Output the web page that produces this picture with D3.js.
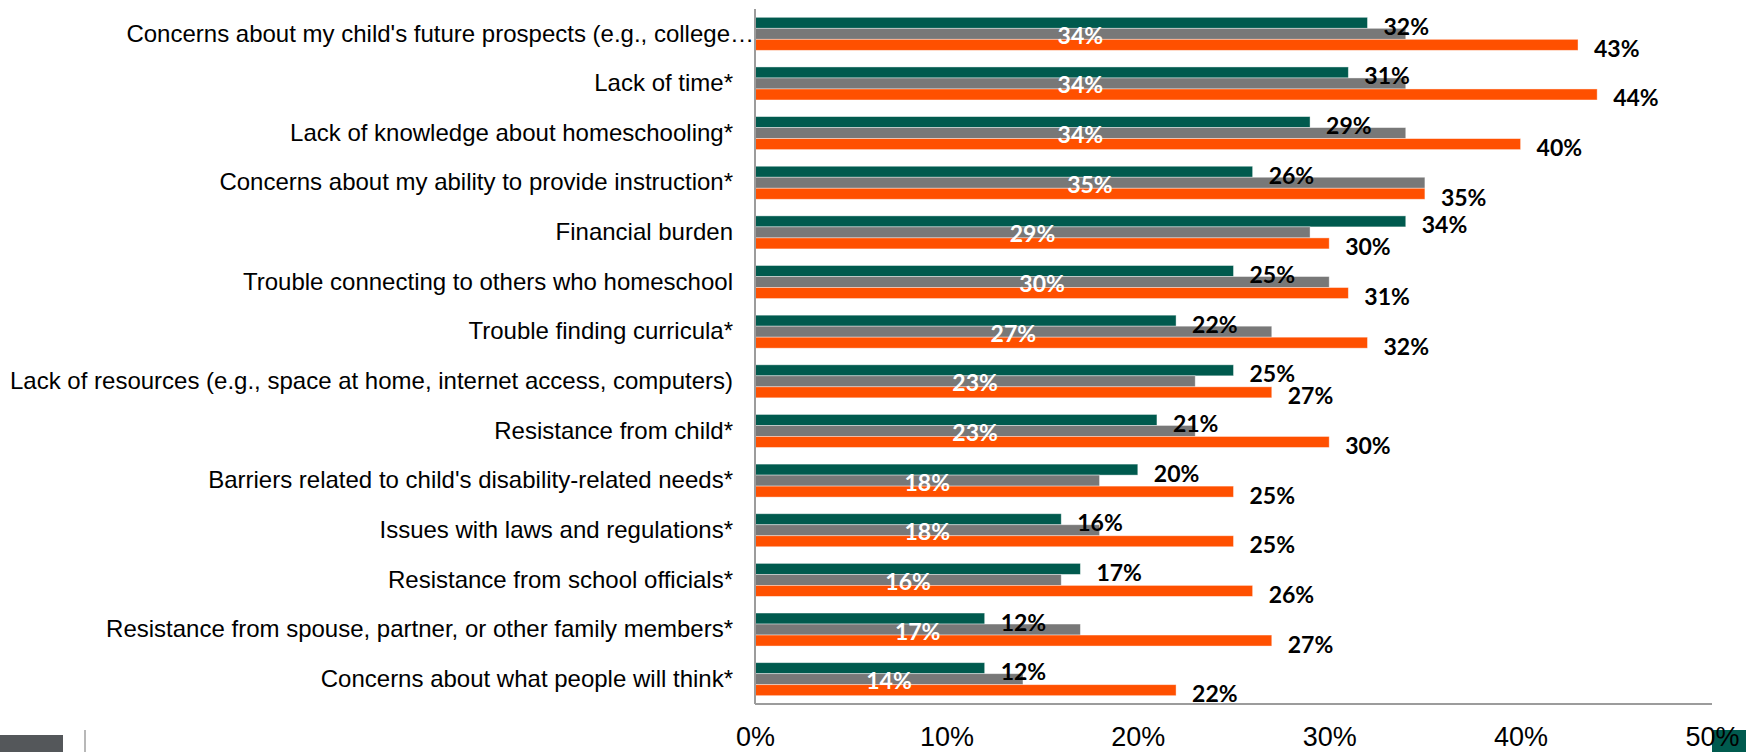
<!DOCTYPE html>
<html>
<head>
<meta charset="utf-8">
<script src="https://cdn.jsdelivr.net/npm/d3@7"></script>
<style>
  html, body { margin: 0; padding: 0; background: #fff; }
  svg { display: block; }
</style>
</head>
<body>
<svg id="chart" width="1746" height="752"></svg>
<script>
// Barriers to homeschooling, share of respondents per group
const categories = [
  "Concerns about my child's future prospects (e.g., college…",
  "Lack of time*",
  "Lack of knowledge about homeschooling*",
  "Concerns about my ability to provide instruction*",
  "Financial burden",
  "Trouble connecting to others who homeschool",
  "Trouble finding curricula*",
  "Lack of resources (e.g., space at home, internet access, computers)",
  "Resistance from child*",
  "Barriers related to child's disability-related needs*",
  "Issues with laws and regulations*",
  "Resistance from school officials*",
  "Resistance from spouse, partner, or other family members*",
  "Concerns about what people will think*"
];
const groupA = [32, 31, 29, 26, 34, 25, 22, 25, 21, 20, 16, 17, 12, 12];
const groupB = [34, 34, 34, 35, 29, 30, 27, 23, 23, 18, 18, 16, 17, 14];
const groupC = [43, 44, 40, 35, 30, 31, 32, 27, 30, 25, 25, 26, 27, 22];
const tickValues = [0, 10, 20, 30, 40, 50];

const seriesKeys = ["groupA", "groupB", "groupC"];
const seriesColors = { groupA: "#005A4E", groupB: "#787878", groupC: "#FF5000" };

const rows = categories.map((c, i) => ({
  category: c, groupA: groupA[i], groupB: groupB[i], groupC: groupC[i]
}));

const svg = d3.select("#chart");
const plot = { left: 755, right: 1712, top: 9, bottom: 704 };

const x = d3.scaleLinear().domain([0, 50]).range([plot.left, plot.right]);
const y = d3.scaleBand().domain(categories).range([plot.top, plot.bottom])
  .paddingInner(0.335).paddingOuter(0.1675);
const ySub = d3.scaleBand().domain(seriesKeys).range([0, y.bandwidth()]);

// footer decorations
svg.append("rect").attr("x", 0).attr("y", 735).attr("width", 63).attr("height", 17).attr("fill", "#54575A");
svg.append("line").attr("x1", 85).attr("x2", 85).attr("y1", 730).attr("y2", 752)
  .attr("stroke", "#A0A0A0").attr("stroke-width", 1.5);
svg.append("rect").attr("x", 1712).attr("y", 730).attr("width", 34).attr("height", 22).attr("fill", "#005A4E");

// bars
const groups = svg.append("g").selectAll("g").data(rows).join("g")
  .attr("transform", d => `translate(0,${y(d.category)})`);

groups.selectAll("rect").data(d => seriesKeys.map(k => ({ key: k, value: d[k] })))
  .join("rect")
  .attr("x", x(0))
  .attr("y", d => ySub(d.key))
  .attr("width", d => x(d.value) - x(0))
  .attr("height", ySub.bandwidth())
  .attr("fill", d => seriesColors[d.key])
  .attr("stroke", "#ffffff")
  .attr("stroke-opacity", 0.5)
  .attr("stroke-width", 0.8);

// value labels
const labelFont = "Lato, 'Open Sans', sans-serif";
groups.append("text")
  .attr("x", d => x(d.groupA) + 16)
  .attr("y", ySub("groupA") + ySub.bandwidth() / 2 + 3)
  .attr("dominant-baseline", "central")
  .attr("font-family", labelFont).attr("font-weight", 700).attr("font-size", 23)
  .attr("fill", "#000")
  .text(d => d.groupA + "%");

groups.append("text")
  .attr("x", d => (x(0) + x(d.groupB)) / 2)
  .attr("y", ySub("groupB") + ySub.bandwidth() / 2 + 1)
  .attr("dominant-baseline", "central")
  .attr("text-anchor", "middle")
  .attr("font-family", labelFont).attr("font-weight", 700).attr("font-size", 23)
  .attr("fill", "#fff")
  .text(d => d.groupB + "%");

groups.append("text")
  .attr("x", d => x(d.groupC) + 16)
  .attr("y", ySub("groupC") + ySub.bandwidth() / 2 + 3)
  .attr("dominant-baseline", "central")
  .attr("font-family", labelFont).attr("font-weight", 700).attr("font-size", 23)
  .attr("fill", "#000")
  .text(d => d.groupC + "%");

// category axis
const yAxis = svg.append("g").attr("transform", `translate(${plot.left},0)`)
  .call(d3.axisLeft(y).tickSize(0).tickPadding(22));
yAxis.select(".domain").attr("stroke", "#9C9C9C").attr("stroke-width", 2)
  .attr("d", `M0,${plot.top}V${plot.bottom}`);
yAxis.selectAll("text")
  .attr("font-family", "'Liberation Sans', Arial, sans-serif")
  .attr("font-size", 24).attr("fill", "#000")
  .attr("dx", d => d.endsWith("…") ? 21 : 0);

// value axis
const xAxis = svg.append("g").attr("transform", `translate(0,${plot.bottom})`)
  .call(d3.axisBottom(x).tickValues(tickValues).tickFormat(d => d + "%").tickSize(0).tickPadding(0));
xAxis.select(".domain").attr("stroke", "#9C9C9C").attr("stroke-width", 2)
  .attr("d", `M${plot.left},0H${plot.right}`);
xAxis.selectAll("text")
  .attr("font-family", "'Liberation Sans', Arial, sans-serif")
  .attr("font-size", 27).attr("fill", "#000")
  .attr("dy", null).attr("y", 42);
</script>
</body>
</html>
